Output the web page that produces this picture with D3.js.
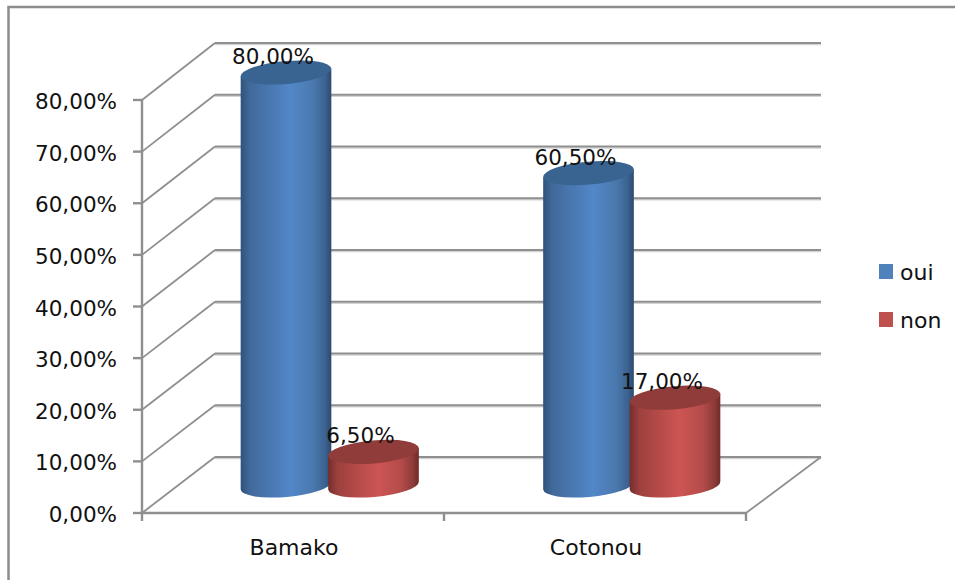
<!DOCTYPE html>
<html>
<head>
<meta charset="utf-8">
<script src="https://cdnjs.cloudflare.com/ajax/libs/d3/7.8.5/d3.min.js"></script>
<style>
html,body{margin:0;padding:0;background:#fff}
svg{display:block}
text{font-family:"DejaVu Sans",sans-serif;fill:#111}
</style>
</head>
<body>
<svg id="chart" width="955" height="580"></svg>
<script>
const categories = ["Bamako", "Cotonou"];
const seriesNames = ["oui", "non"];
const oui = [80.0, 60.5];
const non = [6.5, 17.0];
const yTicks = [0, 10, 20, 30, 40, 50, 60, 70, 80];
const seriesColors = ["#4f81bd", "#c0504d"];

const fmt = v => v.toFixed(2).replace(".", ",") + "%";
const svg = d3.select("#chart");

// Front edge of the box, its back wall, and the plane the cylinders stand on
const yFront = d3.scaleLinear().domain([0, 80]).range([513, 100]);
const yWall = d3.scaleLinear().domain([0, 80]).range([457, 43]);
const yBar = d3.scaleLinear().domain([0, 80]).range([485.5, 72.5]);
const xCat = d3.scaleBand().domain(categories).range([142, 746]);
const xBack = d3.scaleLinear().domain([142, 746]).range([215, 821]);

const grey = "#8f8f8f", greySoft = "#d4d4d4";

// Gradients that shade the cylinders
const defs = svg.append("defs");
function shade(id, stops) {
  const g = defs.append("linearGradient").attr("id", id).attr("x1", 0).attr("x2", 1).attr("y1", 0).attr("y2", 0);
  stops.forEach(([o, c]) => g.append("stop").attr("offset", o).attr("stop-color", c));
}
shade("side-oui", [[0, "#2f5279"], [0.1, "#41699a"], [0.55, "#5287c8"], [0.8, "#4a79ae"], [0.93, "#3c6391"], [1, "#2c4a6e"]]);
shade("side-non", [[0, "#742d2b"], [0.1, "#9c403e"], [0.55, "#cd5553"], [0.8, "#b44c4a"], [0.93, "#8f3c3a"], [1, "#6f2b29"]]);

// Outer frame
svg.append("path").attr("d", "M8.5,580V7H955").attr("fill", "none").attr("stroke", "#8c8c8c").attr("stroke-width", 2.5);

// Gridlines on the side and back walls
const grid = svg.append("g").attr("fill", "none");
yTicks.forEach(t => {
  grid.append("path")
    .attr("d", `M${xBack(142)},${yWall(t) + 1.5}H${xBack(746)}`)
    .attr("stroke", greySoft).attr("stroke-width", 1.5);
  grid.append("path")
    .attr("d", `M142,${yFront(t)}L${xBack(142)},${yWall(t)}`)
    .attr("stroke", grey).attr("stroke-width", 1.8);
  grid.append("path")
    .attr("d", `M${xBack(142)},${yWall(t)}H${xBack(746)}`)
    .attr("stroke", grey).attr("stroke-width", 2.2);
});
grid.append("path")
  .attr("d", `M746,513L${xBack(746)},${yWall(0)}`)
  .attr("stroke", grey).attr("stroke-width", 1.8);

// Vertical value axis and its ticks
const axis = svg.append("g").attr("fill", "none").attr("stroke", grey).attr("stroke-width", 2.4);
axis.append("path").attr("d", `M142,${yFront(80)}V${yFront(0) + 8}`);
yTicks.forEach(t => axis.append("path").attr("d", `M133,${yFront(t)}H142`));

// Horizontal category axis and its ticks
axis.append("path").attr("d", "M142,513H746");
[xCat("Cotonou"), 746].forEach(x => axis.append("path").attr("d", `M${x},513V521`));

// Value axis labels
svg.append("g").selectAll("text").data(yTicks).join("text")
  .attr("x", 117).attr("y", d => yFront(d) + 9)
  .attr("text-anchor", "end").attr("font-size", 21.5)
  .text(fmt);

// Category labels
svg.append("g").selectAll("text").data(categories).join("text")
  .attr("x", d => xCat(d) + xCat.bandwidth() / 2 + 1).attr("y", 555)
  .attr("text-anchor", "middle").attr("font-size", 22)
  .text(d => d);

// Cylinders, back to front within each category
const rx = 45.5, ry = 11.5, tilt = -5;
const dx = rx * Math.cos(tilt * Math.PI / 180), dy = rx * Math.sin(tilt * Math.PI / 180);
const centers = { Bamako: { oui: 286, non: 373.5 }, Cotonou: { oui: 588.5, non: 675 } };
const bars = svg.append("g");
const labels = [];
seriesNames.forEach((s, si) => {
  const values = si === 0 ? oui : non;
  categories.forEach((c, ci) => {
    const cx = centers[c][s], v = values[ci];
    const y0 = yBar(0), y1 = yBar(v);
    bars.append("path")
      .attr("d", `M${cx - dx},${y1 - dy}L${cx - dx},${y0 - dy}A${rx},${ry} ${tilt} 0 0 ${cx + dx},${y0 + dy}L${cx + dx},${y1 + dy}Z`)
      .attr("fill", `url(#side-${s})`);
    bars.append("ellipse")
      .attr("transform", `translate(${cx},${y1}) rotate(${tilt})`)
      .attr("rx", rx).attr("ry", ry)
      .attr("fill", s === "oui" ? "#396391" : "#8f3c3a");
    labels.push({ cx, y: y1, v });
  });
});

// Value labels sit on the cylinder tops
svg.append("g").selectAll("text").data(labels).join("text")
  .attr("x", d => d.cx - 13).attr("y", d => d.y - 8.5)
  .attr("text-anchor", "middle").attr("font-size", 21.5)
  .text(d => fmt(d.v));

// Legend
const legend = svg.append("g").selectAll("g").data(seriesNames).join("g")
  .attr("transform", (d, i) => `translate(879,${264 + i * 48})`);
legend.append("rect").attr("width", 14).attr("height", 15).attr("fill", (d, i) => seriesColors[i]);
legend.append("text").attr("x", 21).attr("y", 15.5).attr("font-size", 22).text(d => d);
</script>
</body>
</html>
